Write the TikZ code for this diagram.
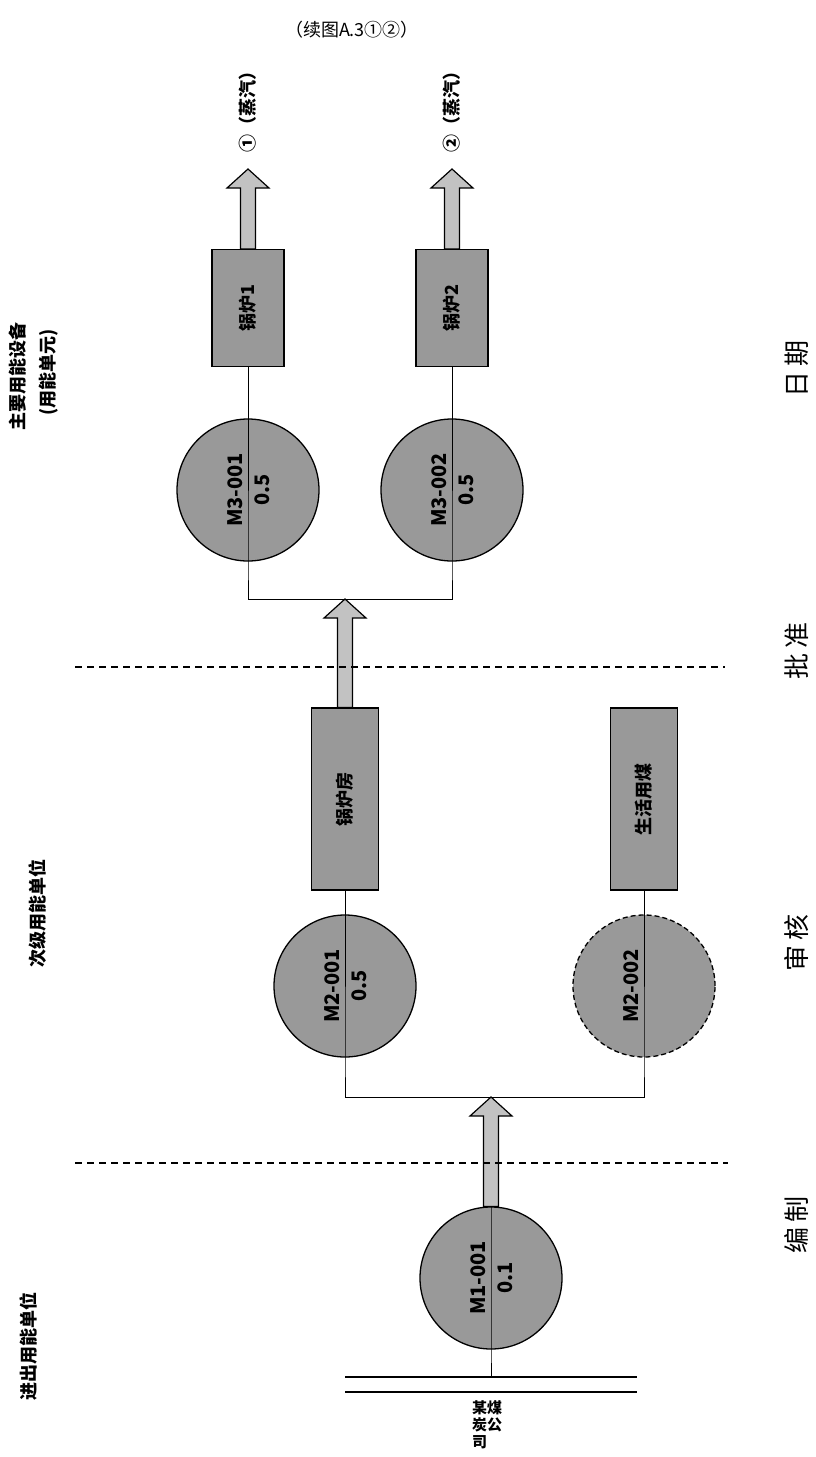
\documentclass[tikz,border=0pt]{standalone}
\usepackage{fontspec}
\usepackage{graphicx}
\setmainfont{Noto Sans CJK SC}
\usetikzlibrary{calc}

\begin{document}
\begin{tikzpicture}[x=1pt,y=-1pt,
    unitbox/.style={
      rectangle,draw,line width=1.3pt,fill=black!40,
      minimum width=67pt,minimum height=182pt,inner sep=0pt,
      font=\fontsize{18}{18}\selectfont\bfseries
    },
    boilerbox/.style={
      unitbox,
      minimum width=72pt,minimum height=117pt
    },
    meter/.style={
      circle,draw,line width=1.3pt,fill=black!40,
      minimum size=142pt,inner sep=0pt
    },
    sparemeter/.style={
      meter,
      dash pattern=on 5pt off 3pt
    },
    meterid/.style={
      rotate=90,inner sep=0pt,font=\fontsize{20}{20}\selectfont\bfseries
    },
    link/.style={line width=1pt},
    fatarrow/.style={draw,line width=1.2pt,fill=black!24},
    divider/.style={line width=1.1pt,dash pattern=on 7pt off 5pt},
    header/.style={rotate=90,font=\fontsize{18}{18}\selectfont\bfseries},
    signfield/.style={rotate=90,font=\fontsize{26}{26}\selectfont}]
      \def\fatarrow#1#2{%
        \path[fatarrow] let \p1=(#1),\p2=(#2) in
          (\x1-7.5,\y1) -- (\x1-7.5,\y2-19) -- (\x1-21,\y2-19) -- (\x1,\y2)
          -- (\x1+21,\y2-19) -- (\x1+7.5,\y2-19) -- (\x1+7.5,\y1) -- cycle;}

      \useasboundingbox (0,0) rectangle (816,1457);

      % titles
      \node[font=\fontsize{18}{18}\selectfont] (title) at (352,30) {（续图A.3①②）};
      \node[header] (colout) at (18,376) {主要用能设备};
      \node[header] (colouts) at (49,372) {(用能单元)};
      \node[header] (colmid) at (38,913) {次级用能单位};
      \node[header] (colin) at (29,1346) {进出用能单位};

      % signatures
      \node[signfield] (signdate) at (797,369) {日\,期};
      \node[signfield] (signok) at (797,651) {批\,准};
      \node[signfield] (signchk) at (797,943) {审\,核};
      \node[signfield] (signmade) at (797,1225) {编\,制};

      % main units
      \node[boilerbox] (boilerA) at (248,308) {\rotatebox{90}{锅炉1}};
      \node[boilerbox] (boilerB) at (452,308) {\rotatebox{90}{锅炉2}};
      \node[meter] (mA) at (248,490) {};
      \node[meter] (mB) at (452,490) {};
      \node[meterid] (mAid) at ([xshift=-13pt]mA.center) {M3-001};
      \node[meterid] (mAval) at ([xshift=14pt]mA.center) {0.5};
      \node[meterid] (mBid) at ([xshift=-13pt]mB.center) {M3-002};
      \node[meterid] (mBval) at ([xshift=14pt]mB.center) {0.5};
      \coordinate (steamA) at (248,169);
      \coordinate (steamB) at (452,169);
      \node[header] (steamAlbl) at (248,107) {①（蒸汽）};
      \node[header] (steamBlbl) at (452,107) {②（蒸汽）};
      \coordinate (busU) at (345,599);

      % secondary units
      \node[unitbox] (house) at (345,799) {\rotatebox{90}{锅炉房}};
      \node[unitbox] (living) at (644,799) {\rotatebox{90}{生活用煤}};
      \node[meter] (mC) at (345,986) {};
      \node[sparemeter] (mD) at (644,986) {};
      \node[meterid] (mCid) at ([xshift=-13pt]mC.center) {M2-001};
      \node[meterid] (mCval) at ([xshift=14pt]mC.center) {0.5};
      \node[meterid] (mDid) at ([xshift=-13pt]mD.center) {M2-002};
      \coordinate (busL) at (491,1097);

      % entry unit
      \node[meter] (mIn) at (491,1278) {};
      \node[meterid] (mInid) at ([xshift=-13pt]mIn.center) {M1-001};
      \node[meterid] (mInval) at ([xshift=14pt]mIn.center) {0.1};
      \coordinate (srcA) at (345,1377);
      \coordinate (srcB) at (637,1377);
      \node[font=\fontsize{15}{17}\selectfont\bfseries,align=left] (source) at (487,1425) {某煤\\炭公\\司};

      % connectors
      \draw[link] (mA.north) -- (boilerA.south);
      \draw[link] (mB.north) -- (boilerB.south);
      \draw[link] (mA.north) -- (mA.south) -- (mA.south |- busU) -- (mB.south |- busU) -- (mB.south) -- (mB.north);
      \draw[link] (mC.north) -- (house.south);
      \draw[link] (mD.north) -- (living.south);
      \draw[link] (mC.north) -- (mC.south) -- (mC.south |- busL) -- (mD.south |- busL) -- (mD.south) -- (mD.north);
      \draw[link] (mIn.north) -- (mIn.south) -- (mIn.south |- srcA);
      \draw[line width=1.2pt] (srcA) -- (srcB);
      \draw[line width=1.2pt] ([yshift=-15pt]srcA) -- ([yshift=-15pt]srcB);

      \fatarrow{boilerA.north}{steamA}
      \fatarrow{boilerB.north}{steamB}
      \fatarrow{house.north}{busU}
      \fatarrow{mIn.north}{busL}

      % borders between levels
      \draw[divider] (75,667) -- (725,667);
      \draw[divider] (75,1163) -- (728,1163);
\end{tikzpicture}
\end{document}
